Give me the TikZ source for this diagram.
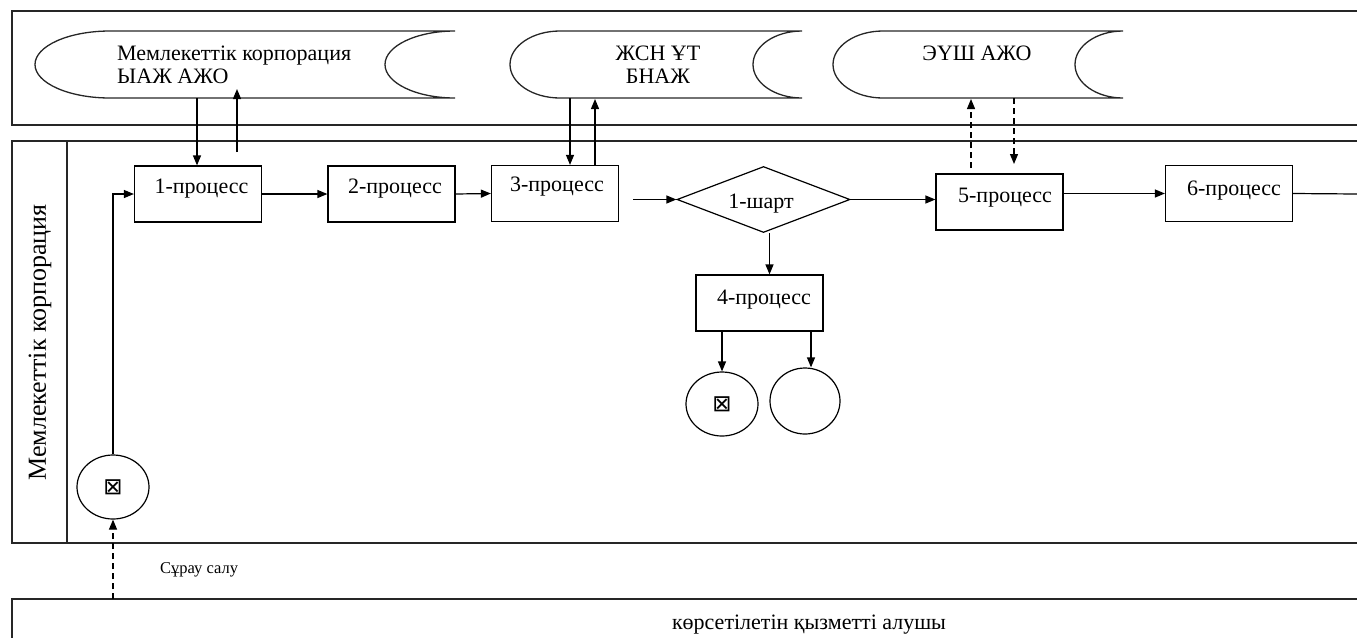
\documentclass[tikz,border=0pt]{standalone}
\usepackage{fontspec}
\setmainfont{Liberation Serif}
\newfontfamily\symfont{DejaVu Sans}
\usetikzlibrary{arrows.meta,shapes.geometric}

\tikzset{
  pool/.style={line width=1.3pt, draw=black!85},
  proc/.style={draw, line width=1.2pt, minimum width=127pt, minimum height=56pt, inner sep=0pt},
  label/.style={font=\fontsize{22}{23}\selectfont, inner sep=0pt},
  cond/.style={draw, diamond, line width=1.2pt, minimum width=173pt, minimum height=66pt, inner sep=0pt},
  event/.style={draw, ellipse, line width=1.2pt, minimum width=72pt, minimum height=64pt, inner sep=0pt},
  db/.style={line width=1.3pt, draw=black!85},
  xmark/.style={font=\symfont\fontsize{23}{23}\selectfont, inner sep=0pt},
  arr/.style={line width=1.2pt, -{Triangle[length=10pt,width=8pt]}},
  darr/.style={arr, dashed, dash pattern=on 6pt off 4pt},
}

\begin{document}
\begin{tikzpicture}[x=1pt,y=-1pt]
\useasboundingbox (0,0) rectangle (1357,638);

% pools
\draw[pool] (1357,11) -- (12,11) -- (12,125) -- (1357,125);
\draw[pool] (1357,141) -- (12,141) -- (12,543) -- (1357,543);
\draw[pool] (67,141) -- (67,543);
\draw[pool] (1357,599) -- (12,599) -- (12,638);

\node[label, font=\fontsize{26}{28}\selectfont, rotate=90] (lane) at (40,342.5) {Мемлекеттік корпорация};

% storages
\draw[db] (455,31) -- (110,31) .. controls (68.6,31) and (35,46) .. (35,64.5)
  .. controls (35,83) and (68.6,98) .. (110,98) -- (455,98)
  (455,31) .. controls (416.3,31) and (385,46) .. (385,64.5)
  .. controls (385,83) and (416.3,98) .. (455,98);
\draw[db] (802,31) -- (560,31) .. controls (532.4,31) and (510,46) .. (510,64.5)
  .. controls (510,83) and (532.4,98) .. (560,98) -- (802,98)
  (802,31) .. controls (775,31) and (753,46) .. (753,64.5)
  .. controls (753,83) and (775,98) .. (802,98);
\draw[db] (1123,31) -- (883,31) .. controls (855.4,31) and (833,46) .. (833,64.5)
  .. controls (833,83) and (855.4,98) .. (883,98) -- (1123,98)
  (1123,31) .. controls (1096.5,31) and (1075,46) .. (1075,64.5)
  .. controls (1075,83) and (1096.5,98) .. (1123,98);

\node[label, anchor=base west] (db1t) at (117,60) {Мемлекеттік корпорация};
\node[label, anchor=base west] (db1u) at (117,83) {ЫАЖ АЖО};
\node[label, anchor=base] (db2t) at (658,60) {ЖСН ҰТ};
\node[label, anchor=base] (db2u) at (658,83) {БНАЖ};
\node[label, anchor=base] (db3t) at (977,60) {ЭҮШ АЖО};

\coordinate (db1a) at (197,98);
\coordinate (db1b) at (237,89);
\coordinate (db2a) at (570,98);
\coordinate (db2b) at (595,99);
\coordinate (db3a) at (971,99);
\coordinate (db3b) at (1014,98);

% processes
\node[proc] (p1) at (198,194) {};
\node[proc] (p2) at (391.5,194) {};
\node[proc] (p3) at (555,193.5) {};
\node[cond] (d) at (763.5,199.5) {};
\node[proc] (p4) at (759.5,303) {};
\node[proc] (p5) at (999.5,202) {};
\node[proc] (p6) at (1229,193.5) {};

\node[label, anchor=base] (p1t) at (201.5,193) {1-процесс};
\node[label, anchor=base] (p2t) at (395,193) {2-процесс};
\node[label, anchor=base] (p3t) at (557,191) {3-процесс};
\node[label, anchor=base] (dt) at (761,208) {1-шарт};
\node[label, anchor=base] (p4t) at (764,304) {4-процесс};
\node[label, anchor=base] (p5t) at (1005,202) {5-процесс};
\node[label, anchor=base] (p6t) at (1234,195) {6-процесс};

% events
\node[event] (s) at (113,487) {};
\node[xmark] (sm) at (s.center) {⊠};
\node[event] (e1) at (722,404) {};
\node[xmark] (e1m) at (e1.center) {⊠};
\node[event, minimum width=70pt, minimum height=66pt] (e2) at (805,401) {};

% flow
\draw[arr] (s.north) |- (p1.west);
\draw[arr] (p1.east) -- (p2.west);
\draw[arr] (p2.east) -- (p3.west);
\draw[arr] ([xshift=14pt]p3.east |- d.west) -- (d.west);
\draw[arr] (d.east) -- (d.east -| p5.west);
\draw[arr] ([xshift=6pt]d.south) -- ([xshift=6pt]d.south |- p4.north);
\draw[arr] (p4.south -| e1.north) -- (e1.north);
\draw[arr] ([xshift=6pt]p4.south -| e2.north) -- ([xshift=6pt]e2.north);
\draw[arr] (p6.west -| p5.east) -- (p6.west);
\coordinate (out) at (1357,194);
\draw[line width=1.2pt] (p6.east) -- (out);

% data exchange
\draw[arr] (db1a) -- (db1a |- p1.north);
\draw[arr] (db1b |- 0,152) -- (db1b);
\draw[arr] (db2a) -- (db2a |- p3.north);
\draw[arr] (db2b |- p3.north) -- (db2b);
\draw[darr] (db3a |- 0,168) -- (db3a);
\draw[darr] (db3b) -- (db3b |- 0,164);

% request from the service recipient
\coordinate (req) at (113,599);
\draw[darr] (req) -- (s.south);
\node[label, font=\fontsize{16.5}{18}\selectfont, anchor=base west] (reqt) at (160,573) {Сұрау салу};
\node[label, anchor=base] (recv) at (809,629) {көрсетілетін қызметті алушы};
\end{tikzpicture}
\end{document}
